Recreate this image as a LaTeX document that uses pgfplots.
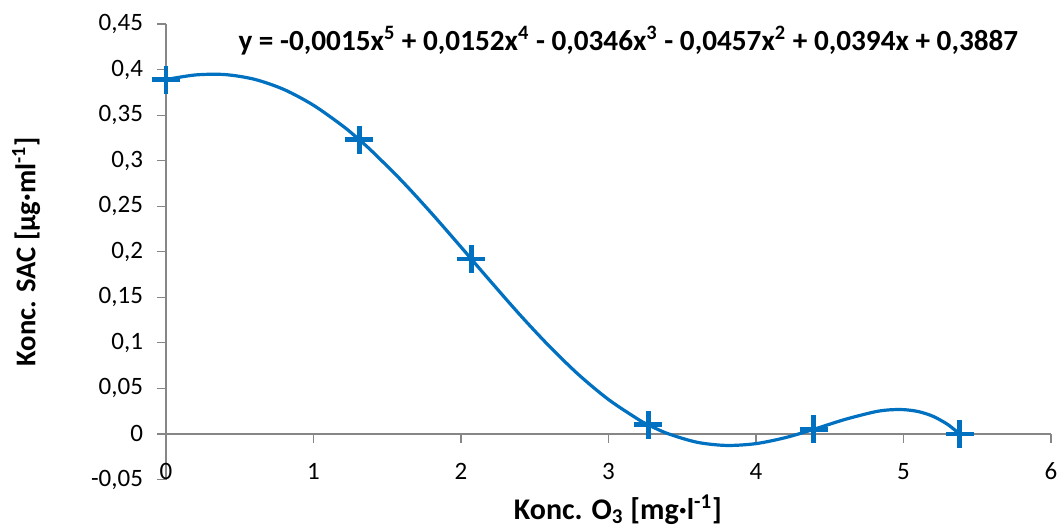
\documentclass[border=0pt]{standalone}
\usepackage{pgfplots}
\pgfplotsset{compat=1.18}
\usepackage{fontspec}
\setmainfont{Carlito}
\definecolor{xlblue}{RGB}{0,112,192}
\definecolor{axgray}{RGB}{134,134,134}
\begin{document}
\begin{tikzpicture}
\useasboundingbox (-83pt,-23.75pt) rectangle (446.5pt,239.75pt);
\begin{axis}[
  at={(0pt,0pt)}, anchor=south west,
  scale only axis, width=442.5pt, height=227.75pt,
  xmin=0, xmax=6, ymin=-0.05, ymax=0.45,
  axis y line*=left, axis x line*=bottom,
  x axis line style={draw=none},
  y axis line style={axgray, line width=0.6pt, -},
  xtick={0,1,2,3,4,5,6}, xticklabels={0,1,2,3,4,5,6},
  major x tick style={draw=none},
  xticklabel style={anchor=base, yshift=4.5pt, font=\fontsize{12.5}{15}\selectfont},
  ytick={-0.05,0,0.05,0.1,0.15,0.2,0.25,0.3,0.35,0.4,0.45},
  yticklabels={{-0,05},{0},{0,05},{0,1},{0,15},{0,2},{0,25},{0,3},{0,35},{0,4},{0,45}},
  yticklabel style={font=\fontsize{12.5}{15}\selectfont, xshift=-3.5pt},
  major y tick style={axgray, line width=0.6pt},
  tick align=outside, major tick length=4.5pt,
  clip=false,
  xlabel={Konc. O\textsubscript{3} [mg·l\textsuperscript{-1}]},
  ylabel={Konc. SAC [µg·ml\textsuperscript{-1}]},
  xlabel style={at={(axis description cs:0.5107,-0.0867)}, anchor=base, font=\bfseries\fontsize{15}{17}\selectfont},
  ylabel style={at={(axis description cs:-0.158,0.5)}, anchor=center, font=\bfseries\fontsize{14.3}{17}\selectfont},
]
\draw[axgray, line width=0.6pt] (axis cs:0,0) -- (axis cs:6,0);
\pgfplotsinvokeforeach{1,2,3,4,5,6}{\draw[axgray, line width=0.6pt] (axis cs:#1,0) -- ++(0pt,-4.5pt);}
\addplot[xlblue, line width=1.6pt, smooth, no marks] coordinates {
(0,0.389) (0.2,0.3941) (0.4,0.3945) (0.6,0.3893) (0.8,0.3781) (1.0,0.3608)
(1.2,0.3379) (1.31,0.323) (1.4,0.3098) (1.6,0.2776) (1.8,0.2423) (2.0,0.2052)
(2.07,0.192) (2.2,0.1676) (2.4,0.1307) (2.6,0.0961) (2.8,0.0647) (3.0,0.0378)
(3.2,0.0162) (3.27,0.010) (3.4,0.0005) (3.6,-0.0091) (3.8,-0.0126) (4.0,-0.0106)
(4.2,-0.0040) (4.39,0.005) (4.6,0.0158) (4.8,0.0241) (4.9,0.0264) (5.0,0.0267)
(5.1,0.0246) (5.2,0.0194) (5.3,0.0104) (5.38,0.0)
};
\addplot[only marks, mark=+, mark size=7pt, xlblue, mark options={line width=2.4pt}] coordinates {
(0,0.389) (1.31,0.323) (2.07,0.192) (3.27,0.010) (4.39,0.005) (5.38,0.0)
};
\node[font=\bfseries\fontsize{14.6}{17}\selectfont] at (axis cs:3.135,0.432)
  {y = -0,0015x\textsuperscript{5} + 0,0152x\textsuperscript{4} - 0,0346x\textsuperscript{3} - 0,0457x\textsuperscript{2} + 0,0394x + 0,3887};
\end{axis}
\end{tikzpicture}
\end{document}
